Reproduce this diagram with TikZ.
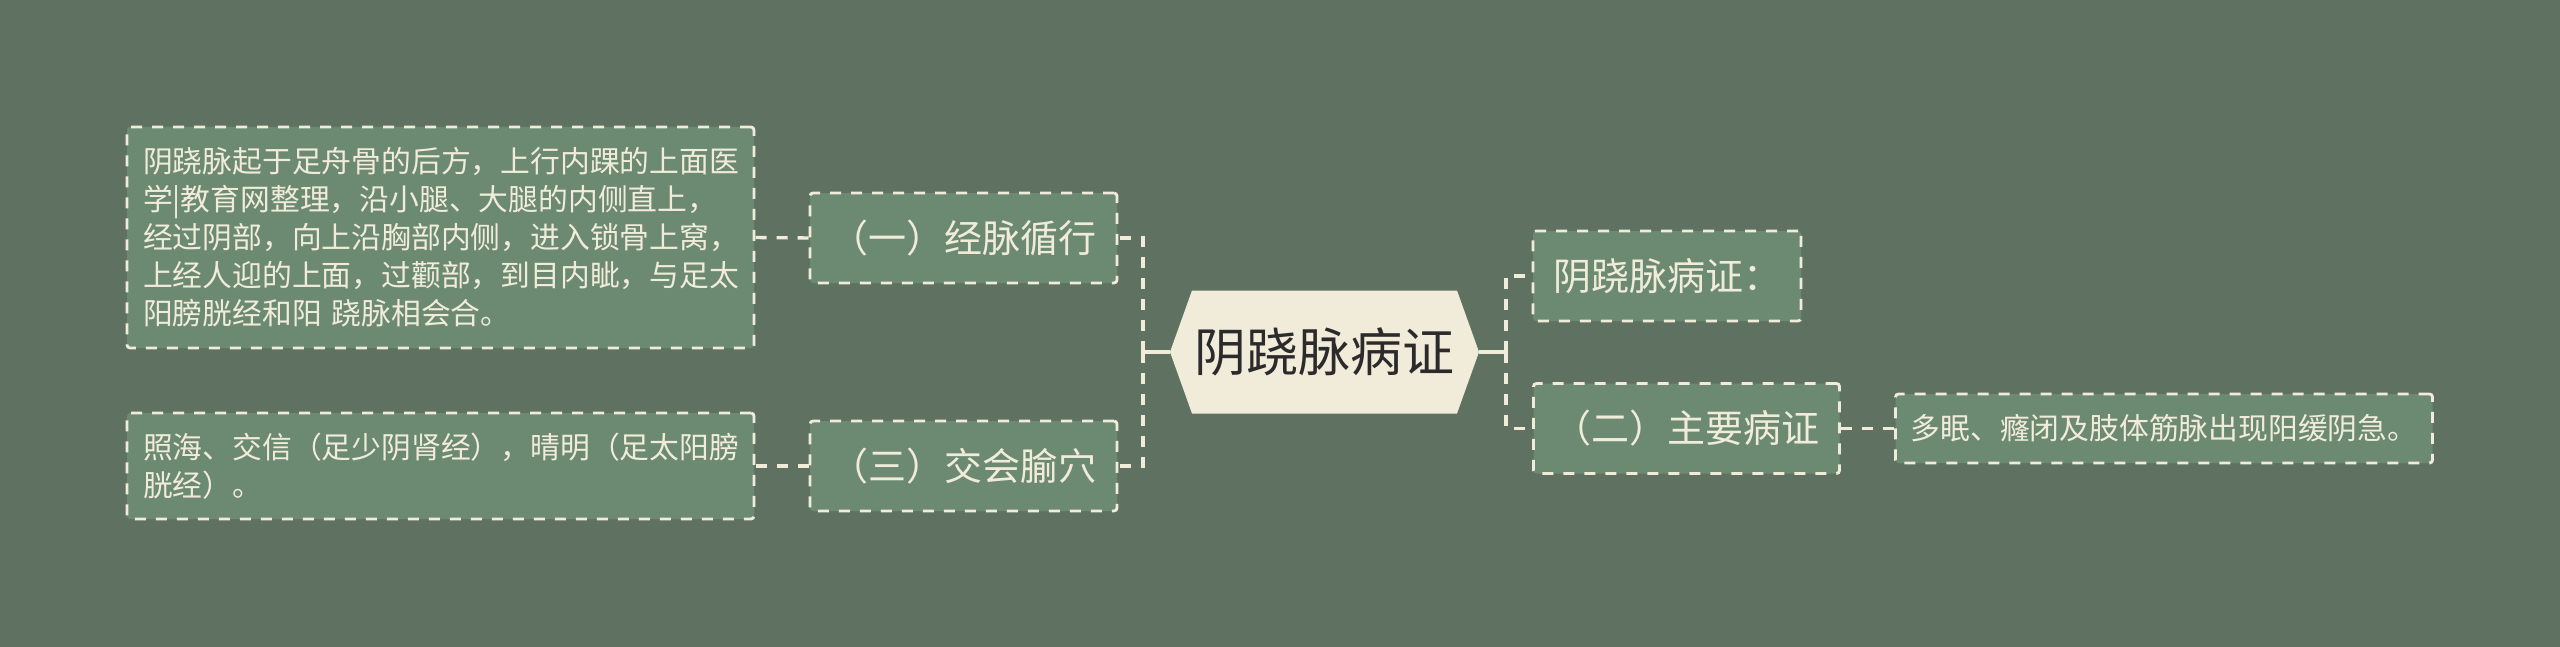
\documentclass[tikz,border=0pt]{standalone}
\usepackage{fontspec}
\setmainfont{Noto Sans CJK SC}
\usetikzlibrary{positioning}
\definecolor{bggreen}{HTML}{5F7262}
\definecolor{boxgreen}{HTML}{6C8A72}
\definecolor{cream}{HTML}{F1ECDA}
\definecolor{inkdark}{HTML}{2B2B2B}

\begin{document}
\begin{tikzpicture}[x=0.5pt,y=-0.5pt,
    topic/.style={draw=cream, line width=1.4pt, dash pattern=on 5.5pt off 5pt, rounded corners=1.5pt,
      fill=boxgreen, text=cream, font=\fontsize{19}{23}\selectfont, inner xsep=0pt, minimum height=45pt},
    leaf/.style={draw=cream, line width=1.4pt, dash pattern=on 5.5pt off 5pt, rounded corners=1.5pt,
      fill=boxgreen, text=cream, font=\fontsize{14.9}{19}\selectfont, inner xsep=8pt, align=left},
    link/.style={draw=cream, line width=1.7pt, dash pattern=on 5.5pt off 5pt},
    stub/.style={draw=cream, line width=2pt}]
  \fill[bggreen] (0,0) rectangle (2560,647);
  \useasboundingbox (0,0) rectangle (2560,647);

  % centre
  \node (root) at (1324.5,352) [minimum width=154.5pt, minimum height=61.5pt, inner sep=0pt,
    text=inkdark, font=\fontsize{26}{30}\selectfont,
    path picture={\fill[cream] ([xshift=11pt]path picture bounding box.north west)
      -- ([xshift=-11pt]path picture bounding box.north east) -- (path picture bounding box.east)
      -- ([xshift=-11pt]path picture bounding box.south east)
      -- ([xshift=11pt]path picture bounding box.south west) -- (path picture bounding box.west) -- cycle;}]
    {阴跷脉病证};

  % left side
  \node[topic, minimum width=153.5pt] (course) at (963.5,238) {（一）经脉循行};
  \node[topic, minimum width=153.5pt] (points) at (963.5,466) {（三）交会腧穴};
  \node[leaf, text width=297.5pt, minimum height=110.5pt] (coursetxt) at (440.5,237.5)
    {阴跷脉起于足舟骨的后方，上行内踝的上面医\\
     学|教育网整理，沿小腿、大腿的内侧直上，\\
     经过阴部，向上沿胸部内侧，进入锁骨上窝，\\
     上经人迎的上面，过颧部，到目内眦，与足太\\
     阳膀胱经和阳 跷脉相会合。};
  \node[leaf, text width=297.5pt, minimum height=53pt] (pointstxt) at (440.5,466)
    {照海、交信（足少阴肾经），晴明（足太阳膀\\
     胱经）。};

  % right side
  \node[topic, minimum width=134pt] (disease) at (1667,276) {阴跷脉病证：};
  \node[topic, minimum width=153pt] (signs) at (1686.5,428.5) {（二）主要病证};
  \node[leaf, minimum width=268.5pt, minimum height=34.5pt, inner xsep=6pt] (signstxt) at (2164,428.5)
    {多眠、癃闭及肢体筋脉出现阳缓阴急。};

  \coordinate (lt) at (1143,352);
  \coordinate (rt) at (1506,352);
  \draw[stub] (root.west) -- (lt);
  \draw[stub] (root.east) -- (rt);
  \draw[link] (lt) |- (course.east);
  \draw[link] (lt) |- (points.east);
  \draw[link] (rt) |- (disease.west);
  \draw[link] (rt) |- (signs.west);
  \draw[link] (course.west) -- (coursetxt.east);
  \draw[link] (points.west) -- (pointstxt.east);
  \draw[link] (signs.east) -- (signstxt.west);
\end{tikzpicture}
\end{document}
